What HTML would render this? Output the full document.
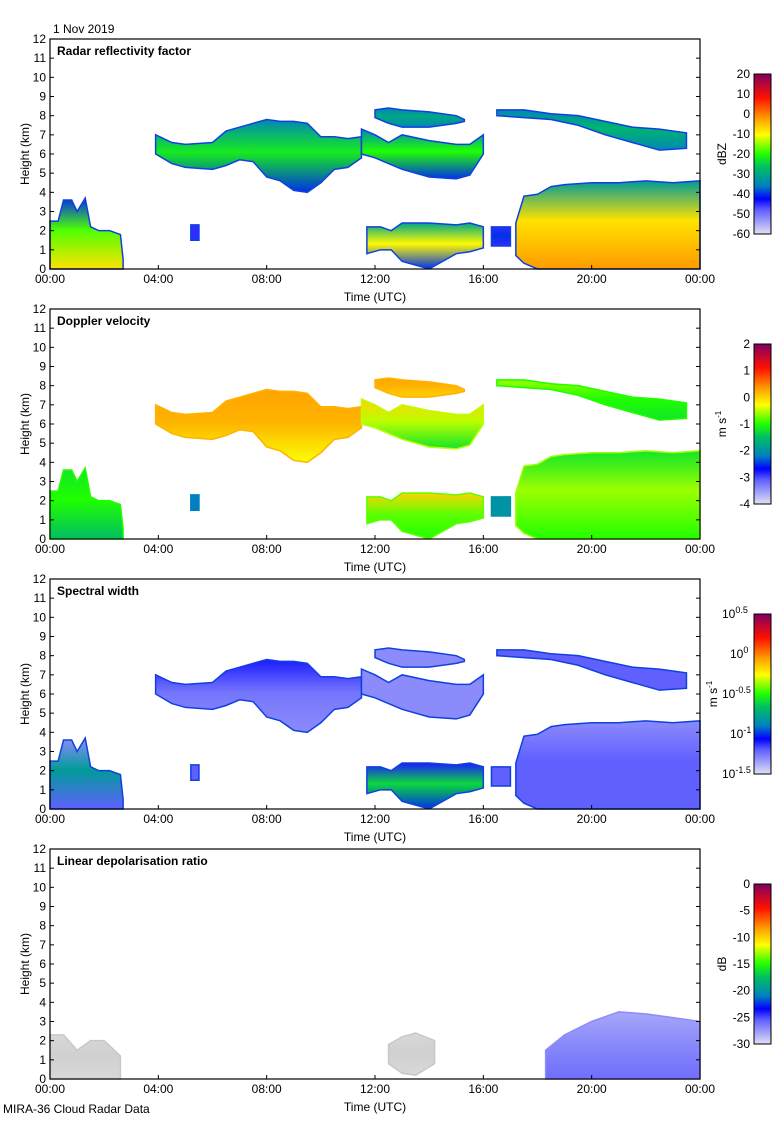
<!DOCTYPE html>
<html><head><meta charset="utf-8"><style>
body{margin:0;background:#fff}
svg text{font-family:"Liberation Sans",sans-serif;font-size:12px;fill:#000}
</style></head><body>
<svg id="chart" width="780" height="1120" xmlns="http://www.w3.org/2000/svg">
<rect width="780" height="1120" fill="#fff"/>
<text x="53" y="33">1 Nov 2019</text>
<text x="3" y="1113">MIRA-36 Cloud Radar Data</text>
</svg>
<script>
const timeTicks = ["00:00","04:00","08:00","12:00","16:00","20:00","00:00"];
const heightTicks = [0,1,2,3,4,5,6,7,8,9,10,11,12];
const panelTitles = ["Radar reflectivity factor","Doppler velocity","Spectral width","Linear depolarisation ratio"];
const panelUnits = ["dBZ","m s-1","m s-1","dB"];
const cbLabels0 = ["20","10","0","-10","-20","-30","-40","-50","-60"];
const cbLabels1 = ["2","1","0","-1","-2","-3","-4"];
const cbLabels2 = ["0.5","0","-0.5","-1","-1.5"];
const cbLabels3 = ["0","-5","-10","-15","-20","-25","-30"];
const cbRanges = [[-60,20],[-4,2],[-1.5,0.5],[-30,0]];

const c1_t=[0,0.3,0.5,0.8,1.0,1.3,1.5,1.8,2.2,2.6,2.7];
const c1_top=[2.5,2.5,3.6,3.6,3.0,3.7,2.2,2.0,2.0,1.8,0.5];
const c1_base=[0,0,0,0,0,0,0,0,0,0,0];
const c2_t=[3.9,4.5,5,6,6.5,7,7.5,8,8.5,9,9.5,10,10.5,11,11.5];
const c2_top=[7.0,6.6,6.5,6.6,7.2,7.4,7.6,7.8,7.7,7.7,7.6,6.9,6.9,6.8,6.9];
const c2_base=[6.0,5.5,5.3,5.2,5.4,5.7,5.6,4.8,4.6,4.1,4.0,4.5,5.2,5.3,5.8];
const c3_t=[11.5,12,12.5,13,14,15,15.5,16];
const c3_top=[7.3,7.0,6.6,7.0,6.7,6.5,6.5,7.0];
const c3_base=[6.0,5.8,5.5,5.2,4.8,4.7,4.9,6.0];
const c4_t=[12,12.5,13,14,15,15.3];
const c4_top=[8.3,8.4,8.3,8.2,8.0,7.8];
const c4_base=[7.9,7.6,7.4,7.4,7.6,7.7];
const c5_t=[16.5,17.5,18.5,19.5,20.5,21.5,22.5,23.5];
const c5_top=[8.3,8.3,8.1,8.0,7.7,7.4,7.3,7.1];
const c5_base=[8.0,7.9,7.8,7.5,7.0,6.6,6.2,6.3];
const c6_t=[11.7,12.2,12.6,13,14,15,15.5,16];
const c6_top=[2.2,2.2,2.0,2.4,2.4,2.3,2.4,2.2];
const c6_base=[0.8,1.0,1.0,0.4,0,0.8,0.9,1.1];
const c7_t=[16.3,17];
const c7_top=[2.2,2.2];
const c7_base=[1.2,1.2];
const c8_t=[17.2,17.5,18,18.5,19,20,21,22,23,24];
const c8_top=[2.4,3.8,3.9,4.3,4.4,4.5,4.5,4.6,4.5,4.6];
const c8_base=[0.7,0.3,0,0,0,0,0,0,0,0];
const c9_t=[5.2,5.5];
const c9_top=[2.3,2.3];
const c9_base=[1.5,1.5];
const l1_t=[0,0.5,1.0,1.5,2.0,2.6];
const l1_top=[2.3,2.3,1.5,2.0,2.0,1.2];
const l1_base=[0,0,0,0,0,0];
const l2_t=[12.5,13,13.5,14.2];
const l2_top=[1.8,2.2,2.4,2.0];
const l2_base=[0.8,0.3,0.2,0.8];
const l3_t=[18.3,19,20,21,22,23,24];
const l3_top=[1.5,2.3,3.0,3.5,3.4,3.2,3.0];
const l3_base=[0,0,0,0,0,0,0];

const vals0=[[-8,-18,-40],[-40,-22,-35],[-40,-20,-35],[-35,-30,-35],[-35,-28,-35],[-40,-10,-30],[-45,-40,-45],[-2,-8,-32],[-45,-45,-45]];
const vals1=[[-1.5,-1.0,-1.2],[-0.3,0.2,0.3],[-1.2,-0.5,0.0],[0.0,0.2,0.3],[-1.2,-1.0,-0.6],[-1.0,-0.8,0.0],[-2,-2,-2],[-1.0,-0.6,-1.2],[-2.2,-2.2,-2.2]];
const vals2=[[-1.2,-0.8,-1.3],[-1.3,-1.25,-1.1],[-1.3,-1.3,-1.3],[-1.3,-1.3,-1.3],[-1.2,-1.2,-1.2],[-1.0,-0.6,-1.1],[-1.2,-1.2,-1.2],[-1.2,-1.2,-1.3],[-1.2,-1.2,-1.2]];
const ldrVals=[null,null,[-26,-27,-28]];

const NS="http://www.w3.org/2000/svg";
const svg=document.getElementById('chart');
const X0=50,X1=700,PH=230,PT=39,PS=270;
const xS=h=>X0+h*(X1-X0)/24;
const yS=(km,p)=>PT+p*PS+PH-km*PH/12;
const stops=[[0,"#e0e0f4"],[0.15,"#6060ff"],[0.22,"#0000ff"],[0.3,"#0080c0"],[0.42,"#00c060"],[0.5,"#20ff00"],[0.62,"#ffff00"],[0.72,"#ffa000"],[0.85,"#ff1000"],[1,"#800060"]];
function hex(c){return [1,3,5].map(i=>parseInt(c.substr(i,2),16));}
function cmap(f){f=Math.max(0,Math.min(1,f));for(let i=1;i<stops.length;i++){if(f<=stops[i][0]){const a=stops[i-1],b=stops[i];const u=(f-a[0])/(b[0]-a[0]);const A=hex(a[1]),B=hex(b[1]);return "rgb("+A.map((v,k)=>Math.round(v+(B[k]-v)*u)).join(",")+")";}}return stops[stops.length-1][1];}
function el(tag,attrs,parent){const e=document.createElementNS(NS,tag);for(const k in attrs)e.setAttribute(k,attrs[k]);(parent||svg).appendChild(e);return e;}
const defs=el('defs',{});
let gid=0;
function drawCloud(p,t,top,base,v,name,gray){
  const r=cbRanges[p];
  const id='g'+(gid++);
  const lg=el('linearGradient',{id:id,x1:0,y1:0,x2:0,y2:1},defs);
  const cs=gray?["#d8d8d8","#d0d0d0","#d8d8d8"]:[cmap((v[2]-r[0])/(r[1]-r[0])),cmap((v[1]-r[0])/(r[1]-r[0])),cmap((v[0]-r[0])/(r[1]-r[0]))];
  el('stop',{offset:0,'stop-color':cs[0]},lg);
  el('stop',{offset:0.45,'stop-color':cs[1]},lg);
  el('stop',{offset:1,'stop-color':cs[2]},lg);
  let pts=t.map((h,i)=>xS(h)+","+yS(top[i],p));
  for(let i=t.length-1;i>=0;i--)pts.push(xS(t[i])+","+yS(base[i],p));
  const edge=gray?"#c8c8c8":(p===0||p===2?"#1040e0":cs[1]);
  const poly=el('polygon',{points:pts.join(" "),fill:"url(#"+id+")",stroke:edge,'stroke-width':1.5});
  
  
}
const shapes=[[c1_t,c1_top,c1_base],[c2_t,c2_top,c2_base],[c3_t,c3_top,c3_base],[c4_t,c4_top,c4_base],[c5_t,c5_top,c5_base],[c6_t,c6_top,c6_base],[c7_t,c7_top,c7_base],[c8_t,c8_top,c8_base],[c9_t,c9_top,c9_base]];
const allVals=[vals0,vals1,vals2];
const cbLabs=[cbLabels0,cbLabels1,cbLabels2,cbLabels3];
for(let p=0;p<4;p++){
  if(p<3){shapes.forEach((s,i)=>drawCloud(p,s[0],s[1],s[2],allVals[p][i],'cloud-'+(i+1),false));}
  else{
    drawCloud(3,l1_t,l1_top,l1_base,null,'ldr-cloud-1',true);
    drawCloud(3,l2_t,l2_top,l2_base,null,'ldr-cloud-2',true);
    drawCloud(3,l3_t,l3_top,l3_base,ldrVals[2],'ldr-cloud-3',false);
  }
  const top=PT+p*PS,bot=top+PH;
  const fr=el('rect',{x:X0,y:top,width:X1-X0,height:PH,fill:'none',stroke:'#000','stroke-width':1.2});
  
  
  const tt=el('text',{x:57,y:top+16,'font-weight':'bold'});
  tt.textContent=panelTitles[p];
  
  
  heightTicks.forEach(k=>{
    const y=yS(k,p);
    el('line',{x1:X0,x2:X0+4,y1:y,y2:y,stroke:'#000'});
    el('line',{x1:X1-4,x2:X1,y1:y,y2:y,stroke:'#000'});
    const tl=el('text',{x:46,y:y+4,'text-anchor':'end'});
    tl.textContent=k;
    
    
  });
  timeTicks.forEach((s,i)=>{
    const x=xS(i*4);
    el('line',{x1:x,x2:x,y1:bot,y2:bot-4,stroke:'#000'});
    const tl=el('text',{x:x,y:bot+14,'text-anchor':'middle'});
    tl.textContent=s;
    
    
  });
  const xt=el('text',{x:375,y:bot+32,'text-anchor':'middle'});
  xt.textContent="Time (UTC)";
  
  
  const yt=el('text',{x:0,y:0,'text-anchor':'middle',transform:'translate(29,'+(top+PH/2)+') rotate(-90)'});
  yt.textContent="Height (km)";
  
  
  const cbTop=74+p*PS,cbH=160;
  const cid='cb'+p;
  const lg=el('linearGradient',{id:cid,x1:0,y1:1,x2:0,y2:0},defs);
  stops.forEach(s=>el('stop',{offset:s[0],'stop-color':s[1]},lg));
  const cb=el('rect',{x:754,y:cbTop,width:17,height:cbH,fill:'url(#'+cid+')',stroke:'#000','stroke-width':1});
  
  
  const labs=cbLabs[p];
  labs.forEach((s,i)=>{
    const y=cbTop+i*cbH/(labs.length-1);
    const tl=el('text',{x:p===2?736:750,y:y+4,'text-anchor':p===2?'start':'end'});
    if(p===2){tl.setAttribute('x',p===2?(s.length>2?722:730):750);tl.textContent="10";const sp=el('tspan',{dy:-5,'font-size':'9px'},tl);sp.textContent=s;}
    else tl.textContent=s;
    
    
  });
  const ut=el('text',{x:0,y:0,'text-anchor':'middle',transform:'translate('+(p===2?717:726)+','+(cbTop+cbH/2)+') rotate(-90)'});
  if(p===1||p===2){ut.textContent="m s";const sp=el('tspan',{dy:-5,'font-size':'8px'},ut);sp.textContent="-1";}
  else ut.textContent=panelUnits[p];
  
  
}
</script>
</body></html>
